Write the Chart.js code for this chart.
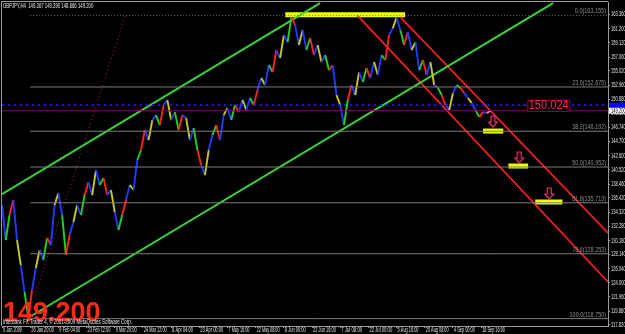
<!DOCTYPE html>
<html>
<head>
<meta charset="utf-8">
<script src="https://cdn.jsdelivr.net/npm/chart.js@4.4.1/dist/chart.umd.min.js"></script>
<style>
html, body { margin: 0; padding: 0; background: #000; }
</style>
</head>
<body>
<canvas id="chart" width="625" height="334"></canvas>
<script>
const symbol_info = 'GBPJPY,H4  149.367 149.390 148.666 149.200';
const copyright = 'Interbank FX Trader 4, \u00a9 2001-2009 MetaQuotes Software Corp.';
const last_price = 149.200;
const ask_line = 150.024;

// H4 closes, one point every 8 bars
const bar_step = 8;
const closes = [
    135.39, 130.26, 133.92, 136.12, 130.26, 126.60, 122.65, 118.90, 122.94, 126.16,
    128.80, 127.34, 130.56, 129.53, 135.39, 137.14, 133.92, 128.07, 131.00, 132.90,
    135.39, 133.92, 136.85, 138.76, 136.85, 140.51, 138.32, 139.34, 136.85, 137.58,
    134.36, 131.73, 133.92, 136.12, 138.32, 137.58, 141.98, 143.44, 146.37, 144.90,
    147.83, 148.56, 147.10, 150.03, 150.76, 147.83, 149.00, 146.37, 148.56, 148.12,
    144.90, 146.66, 143.44, 141.24, 139.78, 143.44, 145.64, 147.10, 144.90, 148.56,
    149.59, 147.83, 150.03, 149.00, 150.76, 149.30, 151.05, 150.03, 152.22, 153.98,
    152.96, 155.88, 154.86, 158.08, 156.91, 160.28, 159.25, 162.90, 161.74, 158.81,
    161.01, 158.08, 159.84, 157.35, 158.81, 156.32, 157.35, 155.15, 155.88, 151.49,
    150.03, 147.10, 150.76, 152.96, 151.49, 154.86, 153.40, 155.44, 153.98, 156.32,
    154.42, 157.35, 156.62, 160.28, 161.30, 162.85, 161.01, 158.81, 160.72, 158.08,
    159.25, 155.15, 156.62, 154.42, 156.32, 152.96, 152.52, 151.49, 150.03, 149.30,
    151.78, 152.96, 152.52, 151.78, 151.05, 150.32, 149.30, 148.27, 149.00, 148.86,
    149.20
];

const date_labels = ['9 Jan 2009', '26 Jan 20:00', '9 Feb 04:00', '23 Feb 12:00', '9 Mar 20:00',
    '24 Mar 12:00', '8 Apr 04:00', '23 Apr 00:00', '7 May 16:00', '22 May 08:00', '8 Jun 00:00',
    '22 Jun 16:00', '7 Jul 08:00', '22 Jul 00:00', '5 Aug 16:00', '20 Aug 08:00', '4 Sep 00:00',
    '18 Sep 16:00'];
const bars_per_label = 60;
const last_bar = 1290;

const price_ticks = [117.82, 119.86, 121.96, 124.00, 126.04, 128.14, 130.18, 132.28, 134.32,
    136.42, 138.46, 140.52, 142.60, 144.70, 146.74, 148.80, 150.88, 152.96, 155.02, 157.06,
    159.12, 161.20, 163.36];

// fibo retracement
const fib_levels = [0, 23.6, 38.2, 50.0, 61.8, 78.6, 100.0];
const fib_high = 163.155;
const fib_low = 118.750;
const fib_start_bar = 60;

// trend lines [bar, price]
const green_upper = [[0, 136.99], [677, 164.96]];
const green_lower = [[55, 118.84], [1173, 164.96]];
const red_upper = [[848, 162.91], [1290, 131.29]];
const red_lower = [[756, 163.20], [1290, 124.11]];
const fib_trend = [[55, 118.84], [262, 163.06]];

// yellow target marks [from bar, to bar, price]
const targets = [[603, 858, 163.27], [1024, 1067, 146.22], [1078, 1120, 141.10], [1135, 1193, 135.83]];
const arrows = [[1045, 146.81], [1101, 141.54], [1165, 136.27]];
const label_bar = 1118;

const small_font = "'Liberation Sans', Arial, sans-serif";
const seg_colors = ['#1e3cff', '#22d022', '#ff2222', '#1e3cff', '#c8c81e'];

function fib_price(level) {
    return fib_high - (fib_high - fib_low) * level / 100;
}

function seg(points, color, width, dash) {
    return {
        data: points.map(p => ({ x: p[0], y: p[1] })),
        borderColor: color,
        borderWidth: width,
        borderDash: dash || [],
        pointRadius: 0,
        fill: false,
        tension: 0
    };
}

const datasets = [];

fib_levels.forEach(level => {
    const v = fib_price(level);
    datasets.push(seg([[fib_start_bar, v], [last_bar, v]], level === 0 ? '#6a6a6a' : '#7c7c7c', 1, level === 0 ? [1, 2] : []));
});
datasets.push(seg([[0, ask_line], [last_bar, ask_line]], '#1010ff', 2, [2, 4]));
datasets.push(seg([[0, last_price], [last_bar, last_price]], '#800060', 1));
datasets.push(seg(fib_trend, '#a0206a', 1, [1, 3]));

datasets.push({
    data: closes.map((c, i) => ({ x: i * bar_step, y: c })),
    borderWidth: 1.9,
    pointRadius: 0,
    tension: 0,
    segment: {
        borderColor: ctx => seg_colors[ctx.p0DataIndex % seg_colors.length]
    }
});

datasets.push(seg(green_upper, '#3ad43a', 2));
datasets.push(seg(green_lower, '#3ad43a', 2));
datasets.push(seg(red_upper, '#ff2020', 1.6));
datasets.push(seg(red_lower, '#ff2020', 1.6));

targets.forEach(t => {
    datasets.push(seg([[t[0], t[2]], [t[1], t[2]]], '#eeff00', 5));
});

// squeeze small text like the terminal's pixel font
function tiny_text(ctx, text, x, y, per_char) {
    ctx.fillText(text, x, y, text.length * per_char);
}

const overlay = {
    id: 'overlay',
    beforeDraw(chart) {
        const ctx = chart.ctx;
        ctx.save();
        ctx.fillStyle = '#000';
        ctx.fillRect(0, 0, chart.width, chart.height);
        ctx.restore();
    },
    afterDatasetsDraw(chart) {
        const ctx = chart.ctx;
        const a = chart.chartArea;
        const x = chart.scales.x;
        const y = chart.scales.y;
        ctx.save();

        // fibo level captions
        ctx.font = '7px ' + small_font;
        ctx.fillStyle = '#8c8c8c';
        ctx.textAlign = 'right';
        ctx.textBaseline = 'bottom';
        fib_levels.forEach(level => {
            const v = fib_price(level);
            tiny_text(ctx, level.toFixed(1) + '(' + v.toFixed(3) + ')', a.right - 2, y.getPixelForValue(v) - 0.5, 2.6);
        });

        // down arrows
        ctx.strokeStyle = '#d8306a';
        ctx.fillStyle = '#1a0008';
        ctx.lineWidth = 1.2;
        arrows.forEach(p => {
            const px = x.getPixelForValue(p[0]);
            const py = y.getPixelForValue(p[1]);
            ctx.beginPath();
            ctx.moveTo(px - 2, py - 11);
            ctx.lineTo(px + 2, py - 11);
            ctx.lineTo(px + 2, py - 5);
            ctx.lineTo(px + 4.5, py - 5);
            ctx.lineTo(px, py);
            ctx.lineTo(px - 4.5, py - 5);
            ctx.lineTo(px - 2, py - 5);
            ctx.closePath();
            ctx.fill();
            ctx.stroke();
        });

        // price label box
        const lx = x.getPixelForValue(label_bar);
        const ly = y.getPixelForValue(ask_line);
        ctx.strokeStyle = '#800050';
        ctx.lineWidth = 1;
        ctx.beginPath();
        ctx.moveTo(lx - 5, ly + 0.5);
        ctx.lineTo(lx, ly + 0.5);
        ctx.stroke();
        ctx.fillStyle = '#000';
        ctx.fillRect(lx, ly - 5, 42, 11);
        ctx.strokeRect(lx + 0.5, ly - 4.5, 42, 11);
        ctx.font = '12px "Liberation Sans", Arial, sans-serif';
        ctx.fillStyle = '#ff2a55';
        ctx.textAlign = 'left';
        ctx.textBaseline = 'middle';
        ctx.fillText('150.024', lx + 1.5, ly + 1, 40);

        // big last price
        ctx.font = 'bold 27px "Liberation Sans", Arial, sans-serif';
        ctx.fillStyle = '#ff2a1a';
        ctx.textBaseline = 'alphabetic';
        ctx.fillText('149.200', 3, 321);

        // header and copyright
        ctx.font = '7px ' + small_font;
        ctx.fillStyle = '#e8e8e8';
        ctx.textBaseline = 'top';
        tiny_text(ctx, symbol_info, 3, 3, 2.15);
        ctx.textBaseline = 'alphabetic';
        tiny_text(ctx, copyright, 3, 324, 2.15);

        // frame
        ctx.strokeStyle = '#9a9a9a';
        ctx.beginPath();
        ctx.moveTo(a.left - 0.5, a.bottom);
        ctx.lineTo(a.left - 0.5, a.top - 0.5);
        ctx.lineTo(a.right, a.top - 0.5);
        ctx.stroke();
        ctx.restore();
    },
    afterDraw(chart) {
        const ctx = chart.ctx;
        const a = chart.chartArea;
        const x = chart.scales.x;
        const y = chart.scales.y;
        ctx.save();

        // axis captions, drawn at the scale positions
        ctx.font = '7px ' + small_font;
        ctx.fillStyle = '#e0e0e0';
        ctx.textAlign = 'left';
        ctx.textBaseline = 'middle';
        date_labels.forEach((d, i) => {
            tiny_text(ctx, d, x.getPixelForValue(i * bars_per_label) + 1, a.bottom + 4.5, 1.9);
        });
        price_ticks.forEach(v => {
            tiny_text(ctx, v.toFixed(3), a.right + 3, y.getPixelForValue(v), 2.1);
        });

        const by = y.getPixelForValue(ask_line);
        ctx.fillStyle = '#0000ff';
        ctx.fillRect(a.right + 1, by - 2.5, chart.width - a.right, 5);
        const wy = y.getPixelForValue(last_price);
        ctx.fillStyle = '#ffffff';
        ctx.fillRect(a.right + 1, wy - 3, chart.width - a.right, 6);
        ctx.fillStyle = '#000';
        tiny_text(ctx, last_price.toFixed(3), a.right + 3, wy + 0.5, 2.1);
        ctx.restore();
    }
};

new Chart(document.getElementById('chart'), {
    type: 'line',
    data: { datasets: datasets },
    options: {
        responsive: false,
        animation: false,
        devicePixelRatio: 1,
        layout: { padding: { left: 2, top: 2, right: 0, bottom: 0 } },
        scales: {
            x: {
                type: 'linear',
                min: 0,
                max: last_bar,
                grid: { drawOnChartArea: false, color: '#9a9a9a', tickLength: 2 },
                border: { color: '#9a9a9a' },
                afterBuildTicks: scale => {
                    scale.ticks = date_labels.map((d, i) => ({ value: i * bars_per_label }));
                },
                afterFit: scale => { scale.height = 8; },
                ticks: { display: false }
            },
            y: {
                type: 'linear',
                position: 'right',
                min: 117.67,
                max: 165.12,
                grid: { drawOnChartArea: false, color: '#9a9a9a', tickLength: 2 },
                border: { color: '#9a9a9a' },
                afterBuildTicks: scale => {
                    scale.ticks = price_ticks.map(v => ({ value: v }));
                },
                afterFit: scale => { scale.width = 17; },
                ticks: { display: false }
            }
        },
        plugins: {
            legend: { display: false },
            tooltip: { enabled: false }
        }
    },
    plugins: [overlay]
});
</script>
</body>
</html>
